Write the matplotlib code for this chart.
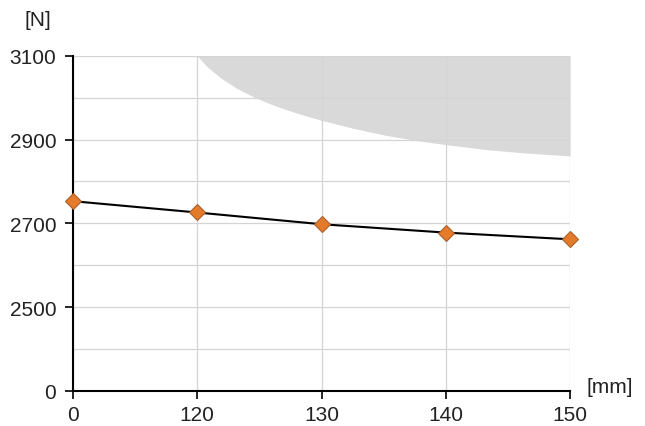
import matplotlib.pyplot as plt
import numpy as np

plt.rcParams['font.family'] = ['Liberation Sans', 'DejaVu Sans']

categories = ['0', '120', '130', '140', '150']
force = [2753, 2726, 2698, 2678, 2662]

# boundary of the grey zone (x as category position, y in N)
zone_x = [1.0, 1.08, 1.19, 1.32, 1.46, 1.59, 1.73, 1.87, 2.0, 2.24, 2.52, 2.78, 3.0, 3.33, 3.6, 4.0]
zone_y = [3100, 3074, 3047, 3022, 3001, 2985, 2970, 2957, 2946, 2928, 2910, 2897, 2888, 2876, 2869, 2861]

y_ticks = [2300, 2500, 2700, 2900, 3100]
y_labels = ['0', '2500', '2700', '2900', '3100']
y_minor = [2400, 2600, 2800, 3000]

fig = plt.figure(figsize=(6.45, 4.27), dpi=100)
ax = fig.add_axes([0.113, 0.082, 0.771, 0.785])

xs = np.arange(len(categories))
ax.fill_between(zone_x, zone_y, 3100, color='#d9d9d9', linewidth=0, zorder=1)

ax.plot(xs, force, color='black', linewidth=1.5, zorder=3)
ax.plot(xs, force, linestyle='none', marker='D', markersize=8.5, clip_on=False,
        markerfacecolor='#e37b2b', markeredgecolor='#a8602c', markeredgewidth=0.8, zorder=6)

ax.set_xlim(0, 4)
ax.set_ylim(2300, 3100)
ax.set_xticks(xs)
ax.set_xticklabels(categories, fontsize=15, color='#222222')
ax.set_yticks(y_ticks)
ax.set_yticklabels(y_labels, fontsize=15, color='#222222')
ax.set_yticks(y_minor, minor=True)
ax.tick_params(axis='y', which='minor', length=0)
ax.tick_params(axis='both', which='major', direction='out', length=6, width=1.2, color='black', pad=4)
ax.tick_params(axis='y', which='major', pad=6)

ax.grid(True, which='both', color='#d4d4d4', linewidth=0.9, zorder=2)
ax.set_axisbelow(False)
for gl in ax.get_xgridlines() + ax.get_ygridlines():
    gl.set_zorder(2)

ax.spines['right'].set_color('none')
ax.spines['top'].set_color('none')
ax.spines['left'].set_linewidth(1.5)
ax.spines['bottom'].set_linewidth(1.5)
ax.spines['left'].set_zorder(5)
ax.spines['bottom'].set_zorder(5)

fig.text(0.058, 0.952, '[N]', fontsize=15, ha='center', va='center', color='#222222')
fig.text(0.945, 0.092, '[mm]', fontsize=15, ha='center', va='center', color='#222222')

plt.savefig('out.png', dpi=100)
